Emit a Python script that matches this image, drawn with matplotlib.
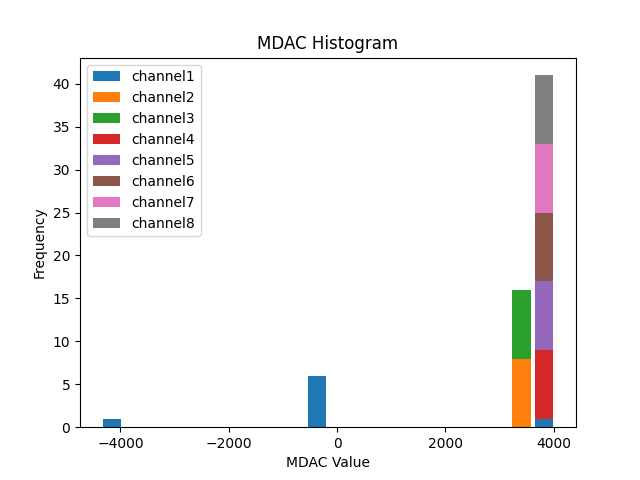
import numpy as np
import matplotlib
matplotlib.use("Agg")
import matplotlib.pyplot as plt

# MDAC readings per channel (8 samples each)
channel_names = ['channel1', 'channel2', 'channel3', 'channel4',
                 'channel5', 'channel6', 'channel7', 'channel8']
ch1 = [-4373, -380, -380, -380, -380, -380, -380, 4040]
ch2 = [3400, 3400, 3400, 3400, 3400, 3400, 3400, 3400]
ch3 = [3400, 3400, 3400, 3400, 3400, 3400, 3400, 3400]
ch4 = [3850, 3850, 3850, 3850, 3850, 3850, 3850, 3850]
ch5 = [3850, 3850, 3850, 3850, 3850, 3850, 3850, 3850]
ch6 = [3850, 3850, 3850, 3850, 3850, 3850, 3850, 3850]
ch7 = [3850, 3850, 3850, 3850, 3850, 3850, 3850, 3850]
ch8 = [3850, 3850, 3850, 3850, 3850, 3850, 3850, 3850]

data = [ch1, ch2, ch3, ch4, ch5, ch6, ch7, ch8]

fig, ax = plt.subplots(figsize=(6.4, 4.8), dpi=100)
ax.hist(data, bins=20, stacked=True, rwidth=0.8, label=channel_names)
ax.set_title('MDAC Histogram')
ax.set_xlabel('MDAC Value')
ax.set_ylabel('Frequency')
ax.legend(loc='upper left')
plt.savefig('out.png')
